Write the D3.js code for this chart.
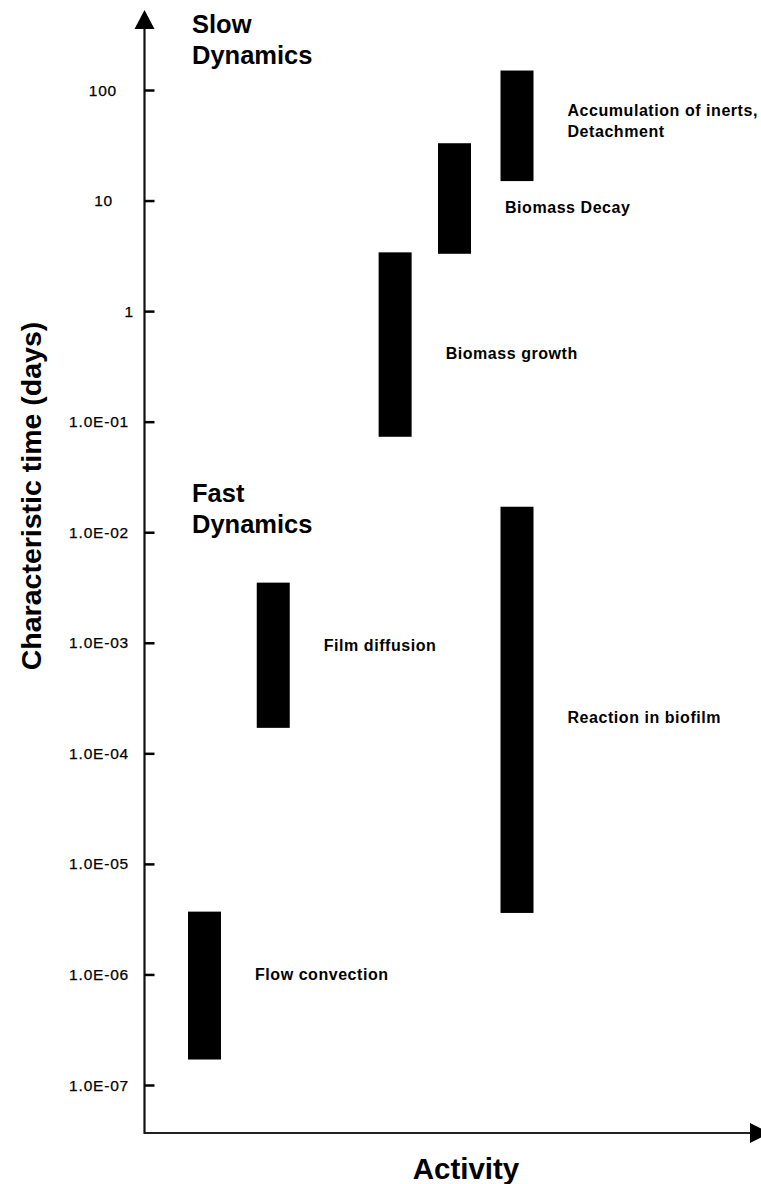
<!DOCTYPE html>
<html>
<head>
<meta charset="utf-8">
<script src="https://cdn.jsdelivr.net/npm/d3@7"></script>
<style>
  body { margin: 0; background: #fff; }
  svg { display: block; font-family: "Liberation Sans", Arial, sans-serif; }
</style>
</head>
<body>
<div id="chart"></div>
<script>
// processes, their place along the activity axis and their time span (days)
const processes = ["Flow convection", "Film diffusion", "Biomass growth", "Biomass Decay", "Accumulation of inerts,\nDetachment", "Reaction in biofilm"]
const activity = [1, 2.1, 4.05, 5, 6, 6]
const tMin = [1.7e-7, 1.7e-4, 0.073, 3.3, 15, 3.6e-6]
const tMax = [3.7e-6, 3.5e-3, 3.4, 33, 150, 0.017]
const labelAt = [1.0e-6, 9.5e-4, 0.42, 8.7, 53, 2.1e-4]

const tickValues = [1e-7, 1e-6, 1e-5, 1e-4, 1e-3, 1e-2, 1e-1, 1, 10, 100]
const tickLabels = ["1.0E-07", "1.0E-06", "1.0E-05", "1.0E-04", "1.0E-03", "1.0E-02", "1.0E-01", "1", "10", "100"]

const width = 761, height = 1184
const x0 = 144.5, yBase = 1133

const svg = d3.select("#chart").append("svg")
  .attr("width", width)
  .attr("height", height)

const y = d3.scaleLog()
  .domain([1e-7, 100])
  .range([1085, 90])

const x = d3.scaleLinear()
  .domain([0, 10])
  .range([142, 767])

const barW = 33

// axes with arrow heads
svg.append("line")
  .attr("x1", x0).attr("x2", x0)
  .attr("y1", 25).attr("y2", yBase + 1)
  .attr("stroke", "#111").attr("stroke-width", 2.2)
svg.append("path")
  .attr("d", `M${x0},10 L${x0 - 10},29 L${x0 + 10},29 Z`)
  .attr("fill", "#000")
svg.append("line")
  .attr("x1", x0).attr("x2", 752)
  .attr("y1", yBase).attr("y2", yBase)
  .attr("stroke", "#222").attr("stroke-width", 2)
svg.append("path")
  .attr("d", `M750,${yBase - 10} L770,${yBase} L750,${yBase + 10} Z`)
  .attr("fill", "#000")

const yAxis = svg.append("g")
  .attr("transform", `translate(${x0},0)`)
  .call(d3.axisRight(y).tickValues(tickValues).tickSize(10).tickFormat(""))
yAxis.select(".domain").remove()
yAxis.selectAll(".tick line").attr("stroke", "#000").attr("stroke-width", 2.5)

svg.append("g").selectAll("text")
  .data(tickValues)
  .join("text")
  .attr("x", (d, i) => tickLabels[i].length > 3 ? 129 : (d === 1 ? 134 : 117 - (3 - tickLabels[i].length) * 4))
  .attr("y", d => y(d))
  .attr("dy", "0.36em")
  .attr("text-anchor", "end")
  .attr("font-size", 15.5)
  .attr("letter-spacing", 0.8)
  .attr("stroke", "#000").attr("stroke-width", 0.25)
  .text((d, i) => tickLabels[i])

// bars
svg.append("g").selectAll("rect")
  .data(processes)
  .join("rect")
  .attr("x", (d, i) => x(activity[i]) - barW / 2)
  .attr("width", barW)
  .attr("y", (d, i) => y(tMax[i]))
  .attr("height", (d, i) => y(tMin[i]) - y(tMax[i]))
  .attr("fill", "#000")

// process labels
const lab = svg.append("g").selectAll("text")
  .data(processes)
  .join("text")
  .attr("x", (d, i) => x(activity[i]) + barW / 2 + 34)
  .attr("y", (d, i) => y(labelAt[i]))
  .attr("font-size", 16)
  .attr("font-weight", "bold")
  .attr("letter-spacing", 0.55)
lab.each(function(d) {
  const lines = d.split("\n")
  d3.select(this).selectAll("tspan")
    .data(lines)
    .join("tspan")
    .attr("x", d3.select(this).attr("x"))
    .attr("dy", (l, j) => j === 0 ? `${0.36 - (lines.length - 1) * 0.65}em` : "1.3em")
    .text(l => l)
})

// slow / fast dynamics captions
const caption = (txt, top) => {
  svg.append("text")
    .attr("x", 192).attr("y", top)
    .attr("font-size", 25.5).attr("font-weight", "bold")
    .selectAll("tspan")
    .data(txt)
    .join("tspan")
    .attr("x", 192)
    .attr("dy", (d, i) => i ? 31 : 0)
    .text(d => d)
}
caption(["Slow", "Dynamics"], 33)
caption(["Fast", "Dynamics"], 502)

// axis titles
svg.append("text")
  .attr("transform", "translate(41,496) rotate(-90)")
  .attr("text-anchor", "middle")
  .attr("font-size", 28.5)
  .attr("font-weight", "bold")
  .text("Characteristic time (days)")

svg.append("text")
  .attr("x", 466).attr("y", 1179)
  .attr("text-anchor", "middle")
  .attr("font-size", 29.5)
  .attr("font-weight", "bold")
  .text("Activity")
</script>
</body>
</html>
